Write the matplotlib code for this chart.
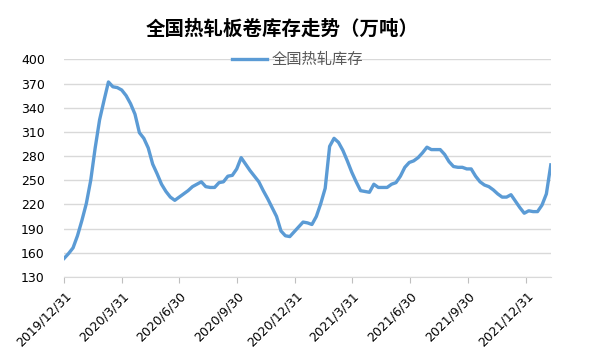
import numpy as np
import pandas as pd
import matplotlib
matplotlib.use("Agg")
import matplotlib.pyplot as plt
import matplotlib.dates as mdates

plt.rcParams['font.family'] = ['DejaVu Sans', 'Noto Sans CJK SC']

# weekly inventory
start_date = "2019-12-31"
inventory = [153, 159, 166, 181, 200, 221, 250, 290, 325, 349,
             372, 366, 365, 362, 355, 345, 332, 309, 302, 290,
             270, 258, 245, 236, 229, 225, 229, 233, 237, 242,
             245, 248, 242, 241, 241, 247, 248, 255, 256, 264,
             278, 270, 262, 255, 248, 237, 227, 216, 205, 187,
             181, 180, 186, 192, 198, 197, 195, 205, 221, 240,
             292, 302, 297, 287, 274, 260, 248, 237, 236, 235,
             245, 241, 241, 241, 245, 247, 255, 266, 272, 274,
             278, 284, 291, 288, 288, 288, 282, 273, 267, 266,
             266, 264, 264, 255, 248, 244, 242, 238, 233, 229,
             229, 232, 224, 216, 209, 212, 211, 211, 219, 233,
             269]
dates = pd.date_range(start_date, periods=len(inventory), freq="7D")

tick_dates = pd.to_datetime(["2019-12-31", "2020-03-31", "2020-06-30", "2020-09-30",
                             "2020-12-31", "2021-03-31", "2021-06-30", "2021-09-30",
                             "2021-12-31"])
tick_labels = ["2019/12/31", "2020/3/31", "2020/6/30", "2020/9/30", "2020/12/31",
               "2021/3/31", "2021/6/30", "2021/9/30", "2021/12/31"]
y_ticks = list(range(130, 401, 30))

fig = plt.figure(figsize=(6, 3.6), dpi=100)
ax = fig.add_axes([0.107, 0.231, 0.811, 0.604])

ax.plot(dates, inventory, color="#5B9BD5", lw=2.4, label="全国热轧库存",
        solid_joinstyle="round")

ax.set_xlim(dates[0], dates[-1])
ax.set_ylim(130, 400)
ax.set_yticks(y_ticks)
ax.set_xticks(tick_dates)
ax.set_xticklabels(tick_labels, rotation=45, ha="right", va="top",
                   rotation_mode="anchor", fontsize=9)
ax.tick_params(axis="y", length=0, labelsize=9, pad=14)
ax.tick_params(axis="x", length=4, color="#bfbfbf", pad=5)

ax.grid(axis="y", color="#d9d9d9", lw=1)
ax.set_axisbelow(True)
for s in ["left", "right", "top"]:
    ax.spines[s].set_visible(False)
ax.spines["bottom"].set_color("#d9d9d9")

fig.text(0.47, 0.92, "全国热轧板卷库存走势（万吨）", ha="center", va="center",
         fontsize=14, fontweight="bold", family=["Noto Sans CJK SC"])

leg = ax.legend(loc="center", bbox_to_anchor=(0.48, 1.0), frameon=False,
                handlelength=2.3, handletextpad=0.3,
                prop={"family": ["Noto Sans CJK SC"], "size": 11})
for t in leg.get_texts():
    t.set_color("#595959")

fig.savefig("out.png", dpi=100, facecolor="white")
